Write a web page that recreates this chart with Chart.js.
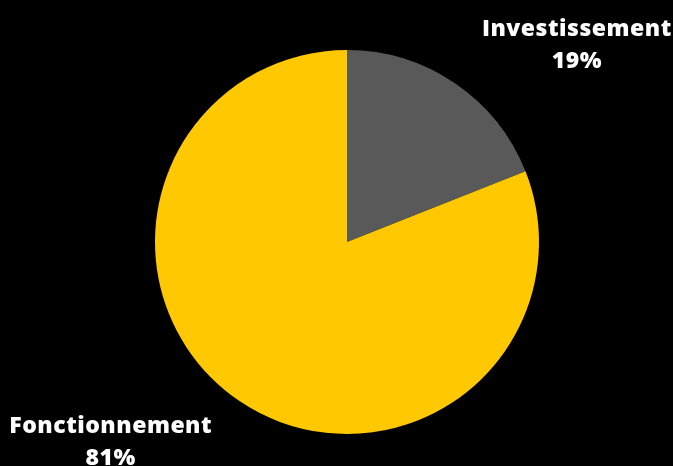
<!DOCTYPE html>
<html>
<head>
<meta charset="utf-8">
<script src="https://cdn.jsdelivr.net/npm/chart.js@4"></script>
<style>
  html, body { margin: 0; padding: 0; background: #000; }
  #wrap { width: 673px; height: 466px; }
</style>
</head>
<body>
<div id="wrap"><canvas id="budget-pie"></canvas></div>
<script>
// Budget split
const categories = ['Investissement', 'Fonctionnement'];
const shares = [19, 81];
const sliceColors = ['#595959', '#FFC800'];

// Draws "name / pct" outside each slice, anchored on the slice mid-angle
const outsideLabels = {
    id: 'outsideLabels',
    afterDatasetsDraw(chart) {
        const ctx = chart.ctx;
        const meta = chart.getDatasetMeta(0);
        ctx.save();
        ctx.fillStyle = '#fff';
        ctx.font = '800 23px "Open Sans"';
        ctx.letterSpacing = '0.5px';
        ctx.textBaseline = 'middle';
        meta.data.forEach((arc, i) => {
            const p = arc.getProps(['x', 'y', 'startAngle', 'endAngle', 'outerRadius'], true);
            const mid = (p.startAngle + p.endAngle) / 2;
            const r = p.outerRadius * 1.25;
            const ax = p.x + Math.cos(mid) * r;
            const ay = p.y + Math.sin(mid) * r;
            const lines = [categories[i], shares[i] + '%'];
            const w = ctx.measureText(lines[0]).width;
            const rightSide = Math.cos(mid) >= 0;
            const cx = rightSide ? ax + w / 2 : ax - w / 2;
            ctx.textAlign = 'center';
            ctx.fillText(lines[0], cx, ay - 14);
            ctx.fillText(lines[1], cx, ay + 18);
        });
        ctx.restore();
    }
};

new Chart(document.getElementById('budget-pie').getContext('2d'), {
    type: 'pie',
    data: {
        labels: categories,
        datasets: [{
            data: shares,
            backgroundColor: sliceColors,
            borderWidth: 0
        }]
    },
    options: {
        responsive: true,
        maintainAspectRatio: false,
        animation: false,
        layout: {
            padding: { left: 155, right: 134, top: 50, bottom: 32 }
        },
        plugins: {
            legend: { display: false },
            tooltip: { enabled: false }
        }
    },
    plugins: [outsideLabels]
});
</script>
</body>
</html>
